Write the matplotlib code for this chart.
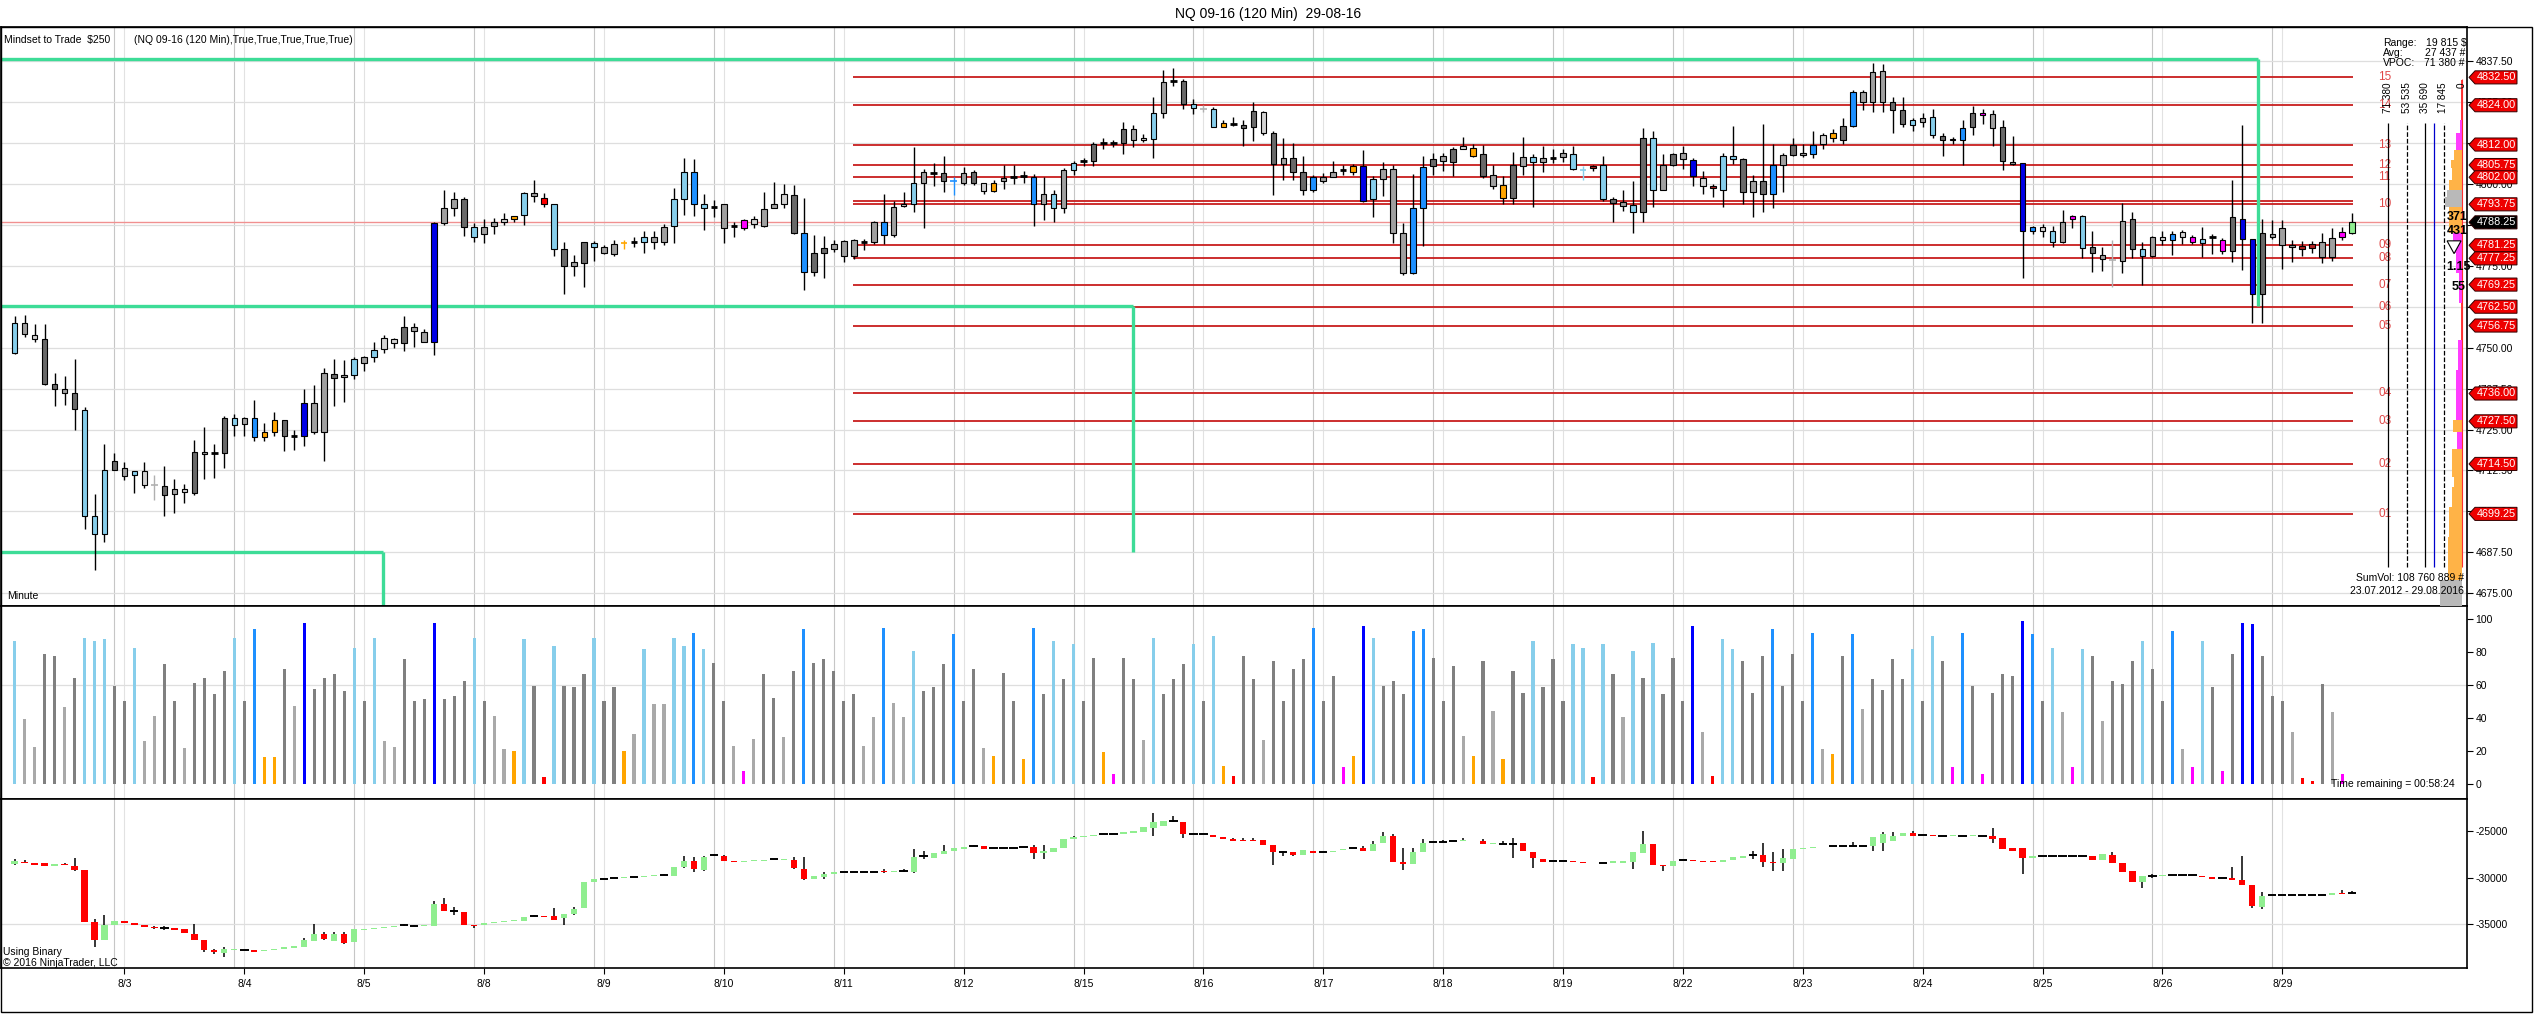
import numpy as np
import matplotlib
matplotlib.use("Agg")
import matplotlib.pyplot as plt
from matplotlib.patches import Polygon, Rectangle
from matplotlib.transforms import blended_transform_factory

plt.rcParams['font.family'] = ['Liberation Sans', 'DejaVu Sans']

# ---------------- DATA ----------------
dates = ['8/3', '8/4', '8/5', '8/8', '8/9', '8/10', '8/11', '8/12', '8/15', '8/16',
         '8/17', '8/18', '8/19', '8/22', '8/23', '8/24', '8/25', '8/26', '8/29']

opens = [4748.5,4757.5,4754.0,4752.5,4739.0,4737.25,4736.25,4731.0,4698.5,4693.25,
4712.75,4713.25,4711.0,4712.25,4708.0,4707.75,4705.25,4706.0,4705.75,4718.25,
4717.75,4717.75,4728.5,4726.75,4728.5,4722.75,4724.25,4728.0,4723.0,4723.0,
4733.25,4724.25,4742.0,4741.0,4741.75,4745.25,4747.0,4749.5,4752.5,4751.5,
4756.25,4754.75,4751.75,4788.0,4792.75,4795.5,4786.75,4784.75,4787.0,4788.25,
4789.25,4790.5,4797.25,4795.75,4794.0,4780.25,4775.0,4775.75,4782.0,4780.75,
4778.5,4782.0,4782.25,4782.25,4782.25,4782.25,4787.0,4795.25,4803.75,4794.0,
4793.0,4793.75,4787.0,4786.5,4789.25,4787.0,4792.75,4793.75,4796.5,4785.0,
4773.0,4778.75,4780.25,4782.5,4778.0,4782.25,4782.25,4788.5,4784.5,4793.25,
4793.75,4800.25,4803.25,4803.25,4800.75,4800.25,4803.5,4800.25,4797.75,4800.75,
4802.0,4802.5,4802.0,4793.75,4796.75,4792.75,4804.25,4807.0,4807.0,4812.5,
4812.5,4812.5,4816.75,4813.25,4813.75,4821.75,4831.25,4831.5,4824.25,4823.0,
4823.0,4817.5,4818.25,4818.0,4817.25,4822.0,4815.5,4806.0,4807.75,4803.75,
4798.0,4802.0,4802.0,4804.25,4803.75,4805.5,4795.25,4801.5,4804.5,4785.0,
4772.75,4792.5,4805.5,4807.0,4806.75,4810.75,4811.0,4809.0,4802.75,4799.5,
4795.75,4805.5,4808.25,4806.75,4808.0,4808.25,4809.25,4804.25,4804.75,4805.75,
4795.25,4794.5,4793.5,4791.5,4814.0,4798.25,4805.75,4809.5,4807.25,4801.75,
4799.25,4798.25,4808.5,4807.5,4797.5,4800.75,4797.0,4805.75,4808.75,4809.5,
4809.0,4812.25,4815.5,4813.5,4817.75,4828.0,4825.0,4834.5,4825.0,4822.5,
4818.0,4818.75,4820.5,4814.75,4813.25,4813.5,4817.25,4821.5,4821.25,4817.25,
4806.75,4806.25,4785.75,4786.75,4785.5,4782.25,4789.25,4790.25,4780.75,4778.25,
4776.75,4776.5,4789.25,4780.25,4778.0,4783.75,4782.75,4785.25,4783.75,4782.0,
4783.75,4783.0,4779.5,4789.25,4783.25,4766.25,4783.75,4786.5,4781.25,4781.0,
4780.5,4782.25,4777.75,4783.75,4785.0]

highs = [4759.75,4760.0,4757.25,4757.25,4742.25,4741.25,4746.5,4731.75,4705.25,4720.5,
4717.75,4715.0,4712.25,4715.0,4711.0,4713.75,4710.0,4708.5,4721.75,4725.75,
4720.5,4729.0,4729.75,4728.75,4734.0,4727.0,4730.25,4728.0,4724.75,4737.25,
4738.5,4743.75,4746.5,4746.25,4747.25,4747.5,4751.75,4753.75,4753.0,4759.75,
4757.5,4755.75,4788.25,4798.0,4797.5,4796.0,4788.0,4789.25,4789.5,4791.0,
4790.25,4797.5,4801.25,4797.25,4794.0,4782.25,4778.25,4782.25,4782.5,4781.25,
4783.0,4782.75,4783.75,4785.75,4785.75,4787.75,4798.75,4808.0,4807.5,4796.75,
4795.0,4793.75,4788.25,4789.25,4790.25,4797.5,4800.5,4800.0,4799.5,4795.75,
4784.5,4784.0,4783.0,4782.75,4783.25,4783.25,4788.75,4797.0,4794.75,4797.5,
4811.25,4804.5,4806.25,4808.5,4802.0,4805.0,4804.25,4800.25,4801.25,4805.75,
4805.75,4804.0,4803.0,4802.0,4798.0,4804.75,4807.0,4808.0,4812.75,4814.0,
4813.5,4819.0,4818.0,4815.25,4826.5,4834.75,4835.5,4832.0,4825.75,4824.0,
4823.5,4819.5,4820.5,4819.5,4825.0,4822.25,4816.25,4814.0,4812.5,4808.5,
4802.75,4803.25,4807.0,4805.75,4806.0,4810.25,4802.25,4806.75,4805.75,4788.0,
4803.0,4808.5,4809.5,4809.5,4811.25,4814.25,4812.25,4811.75,4805.75,4802.25,
4809.75,4814.25,4809.25,4811.5,4810.75,4810.75,4811.5,4805.5,4805.75,4808.5,
4796.0,4798.25,4800.75,4817.0,4816.0,4809.25,4809.5,4811.5,4807.75,4804.0,
4800.0,4809.5,4817.75,4808.0,4802.75,4818.25,4812.25,4809.5,4814.0,4812.25,
4816.0,4815.5,4816.75,4820.0,4828.75,4828.75,4837.0,4836.5,4826.5,4826.5,
4820.0,4821.5,4823.0,4815.5,4814.25,4819.5,4823.75,4823.0,4822.5,4819.5,
4814.5,4806.25,4787.25,4787.75,4787.0,4792.0,4790.5,4790.5,4785.5,4780.75,
4783.0,4794.25,4791.5,4782.25,4784.0,4785.5,4785.5,4786.0,4784.5,4786.75,
4784.75,4783.5,4801.25,4818.0,4783.25,4789.25,4789.0,4789.0,4783.0,4782.5,
4782.5,4785.0,4786.5,4786.75,4791.25]

lows = [4748.0,4753.25,4751.75,4738.5,4732.25,4732.5,4724.75,4694.5,4682.0,4690.75,
4712.5,4709.5,4705.75,4707.0,4703.5,4698.5,4699.5,4702.5,4705.0,4710.0,
4710.25,4713.25,4723.0,4723.0,4721.5,4721.5,4723.0,4718.5,4718.75,4720.0,
4723.75,4715.25,4732.25,4733.5,4740.5,4742.75,4745.5,4748.5,4750.0,4749.0,
4750.25,4751.75,4747.75,4787.5,4790.25,4784.0,4782.25,4782.0,4784.75,4787.5,
4788.25,4787.5,4794.5,4793.0,4778.0,4766.25,4771.75,4768.5,4776.5,4778.5,
4778.0,4780.25,4780.75,4778.75,4780.0,4781.25,4782.0,4790.5,4790.25,4786.0,
4790.0,4782.0,4783.75,4786.0,4786.5,4786.75,4792.5,4792.75,4784.75,4767.5,
4772.0,4771.25,4779.25,4776.0,4777.0,4779.75,4781.5,4781.75,4783.75,4793.0,
4791.5,4786.5,4799.25,4797.5,4796.5,4799.5,4799.75,4796.75,4797.5,4798.5,
4800.0,4800.25,4787.0,4789.0,4788.5,4791.25,4802.75,4805.5,4805.5,4810.75,
4811.25,4809.25,4811.25,4812.75,4808.0,4820.25,4829.75,4823.0,4821.25,4822.0,
4817.25,4817.5,4817.75,4811.5,4813.0,4815.0,4796.5,4801.25,4801.25,4796.5,
4797.5,4800.25,4802.0,4802.75,4802.75,4794.5,4789.75,4796.25,4782.0,4772.25,
4772.5,4781.0,4802.75,4804.0,4802.5,4810.5,4808.25,4801.75,4798.5,4794.0,
4793.75,4802.75,4793.0,4803.5,4806.5,4806.75,4804.25,4801.25,4804.0,4794.75,
4788.25,4791.75,4785.0,4788.25,4793.0,4798.0,4805.5,4804.5,4799.25,4797.0,
4796.0,4793.0,4806.0,4794.0,4789.75,4791.5,4792.5,4797.5,4808.5,4808.25,
4808.0,4810.75,4812.75,4812.25,4817.5,4822.5,4822.0,4822.0,4815.5,4817.5,
4816.0,4817.25,4814.0,4808.5,4812.25,4805.75,4815.0,4818.25,4811.5,4804.25,
4805.75,4771.25,4784.75,4783.75,4780.75,4782.0,4786.5,4777.25,4773.0,4773.5,
4768.5,4772.75,4777.25,4769.0,4777.75,4781.25,4778.25,4781.5,4781.5,4777.75,
4778.5,4778.5,4776.0,4773.75,4757.5,4757.5,4783.25,4774.0,4776.25,4778.0,
4779.0,4775.75,4776.5,4782.75,4784.75]

closes = [4757.5,4754.25,4752.75,4739.0,4737.5,4736.25,4731.25,4698.5,4693.25,4712.75,
4715.25,4710.75,4712.25,4708.0,4708.0,4705.0,4706.75,4706.75,4718.25,4717.5,
4717.75,4728.5,4726.5,4728.5,4722.75,4724.25,4728.0,4723.0,4723.0,4733.25,
4724.25,4742.25,4740.75,4741.75,4746.5,4747.0,4749.25,4753.0,4751.5,4756.25,
4755.0,4751.75,4788.0,4792.75,4795.25,4786.75,4783.75,4786.75,4788.25,4789.25,
4790.25,4797.25,4796.25,4794.0,4780.25,4775.0,4776.0,4782.25,4780.75,4778.75,
4781.75,4782.0,4782.25,4783.75,4783.75,4786.75,4795.25,4803.75,4793.75,4792.75,
4793.0,4786.5,4787.0,4789.0,4787.75,4792.25,4794.0,4796.75,4785.0,4773.0,
4779.0,4780.5,4781.75,4778.0,4782.75,4782.25,4788.5,4784.5,4793.0,4794.0,
4800.25,4803.5,4803.25,4800.75,4800.75,4803.25,4800.25,4797.75,4800.25,4801.75,
4802.0,4802.5,4793.75,4796.75,4792.75,4804.25,4806.25,4807.0,4812.25,4812.5,
4812.5,4816.75,4813.5,4814.0,4821.75,4831.0,4831.25,4824.5,4823.25,4823.0,
4817.5,4818.5,4818.25,4817.0,4822.25,4815.5,4806.0,4808.0,4803.75,4798.0,
4802.0,4801.0,4803.75,4804.25,4805.5,4794.75,4801.5,4804.5,4785.0,4772.75,
4792.75,4805.25,4807.5,4808.5,4810.75,4811.5,4808.5,4802.25,4799.25,4795.75,
4805.75,4808.25,4806.75,4808.0,4808.0,4809.5,4804.5,4804.25,4805.5,4795.25,
4794.25,4793.25,4791.5,4814.0,4798.25,4805.75,4809.0,4807.5,4802.5,4799.25,
4798.75,4808.5,4807.5,4797.5,4800.75,4797.0,4805.75,4808.75,4812.0,4808.75,
4811.75,4815.0,4814.0,4817.75,4828.0,4825.0,4834.25,4825.0,4822.5,4818.25,
4819.5,4820.25,4815.0,4813.25,4813.75,4817.0,4821.75,4821.0,4817.0,4807.0,
4806.0,4785.5,4786.75,4785.75,4782.25,4788.5,4790.25,4780.5,4778.75,4777.0,
4776.75,4788.75,4780.25,4778.0,4783.75,4783.0,4784.75,4783.75,4782.25,4783.25,
4783.75,4779.5,4789.75,4783.25,4766.25,4785.0,4784.75,4781.25,4780.75,4780.25,
4781.5,4777.75,4783.5,4785.25,4788.25]

candle_colors = [
'lb','g','lg','dg','dg','g','dg','lb','lb','lb',
'dg','g','lb','lg','lg','dg','g','lg','dg','g',
'k','dg','lb','g','db','o','o','dg','k','b',
'g','g','dg','g','lb','g','lb','lg','lg','dg',
'g','g','b','g','g','dg','lb','g','g','lg',
'o','lb','g','r','lb','dg','g','dg','lb','g',
'g','o','k','lb','g','g','lb','lb','db','lb',
'k','g','k','m','lg','g','g','lg','dg','db',
'dg','dg','g','g','g','k','g','db','g','lg',
'lb','g','k','dg','db','g','dg','lg','o','g',
'k','k','db','g','lb','g','lb','k','dg','k',
'k','dg','g','lg','lb','g','k','dg','lb','lg',
'lb','o','k','dg','dg','lg','dg','g','dg','dg',
'db','g','g','k','o','b','lb','g','g','g',
'db','db','dg','g','dg','lg','o','dg','g','o',
'dg','g','lb','g','k','g','lb','lb','dr','lb',
'dg','g','lb','dg','lb','g','dg','g','b','lg',
'dr','lb','lb','dg','g','dg','db','g','dg','g',
'db','lg','o','dg','db','g','g','g','dg','dg',
'lb','g','lb','dg','m','db','dg','m','g','dg',
'g','b','db','lg','lb','g','m','lb','dg','g',
'lg','g','dg','lb','g','lg','db','lg','m','lb',
'k','m','dg','b','b','dg','g','g','g','dr',
'dr','g','g','m','gr']

hist_values = [86.7,39.3,22.6,78.6,77.6,46.8,64.1,88.3,86.7,87.9,
59.5,50.4,82.3,26.2,41.3,72.6,50.4,21.6,61.3,64.1,
54.6,68.5,88.3,50.4,93.8,16.5,16.5,69.6,47.4,97.4,
57.7,64.3,66.7,56.5,82.5,50.4,88.3,26.2,22.6,75.6,
50.4,51.4,97.4,51.4,53.4,62.5,88.3,50.4,41.3,21.2,
20.2,87.7,59.5,4.4,83.5,59.5,58.5,66.5,88.3,50.4,
58.5,20.2,30.6,81.7,48.4,48.4,88.3,83.7,91.5,81.7,
73.4,50.4,23.2,7.7,27.4,66.7,52.2,28.6,68.5,93.8,
73.4,75.8,68.5,50.4,54.4,23.2,40.7,94.6,49.0,40.9,
80.4,56.5,58.5,72.6,90.9,50.4,70.0,21.6,17.1,67.3,
50.4,15.1,94.6,54.6,86.7,63.9,84.7,50.4,76.4,19.6,
6.3,76.4,63.9,26.4,88.3,54.6,63.9,72.8,84.7,50.4,
89.7,11.1,5.0,77.6,63.9,26.4,74.6,50.4,70.0,76.0,
94.6,50.4,65.5,10.5,17.1,95.8,88.5,59.5,62.5,54.6,
92.7,93.8,76.4,50.4,71.6,29.2,17.1,74.6,44.4,15.3,
68.5,55.0,86.7,58.5,75.8,50.4,84.7,82.5,4.4,84.7,
66.7,40.7,80.6,64.3,85.5,54.6,76.4,50.4,95.8,31.7,
5.0,87.9,81.9,74.6,55.2,77.6,94.0,59.5,78.8,50.4,
91.5,21.4,18.3,77.6,90.9,45.6,63.7,57.1,76.0,63.7,
81.9,50.4,89.7,74.6,10.5,91.5,59.5,6.3,55.2,66.7,
65.5,98.8,90.9,50.4,82.5,43.8,10.5,81.9,77.6,38.3,
62.5,60.7,74.6,86.7,70.0,50.4,92.7,21.4,10.5,86.7,
58.5,8.1,78.8,97.6,97.0,77.6,53.4,50.4,31.7,3.4,
2.0,60.5,43.8,6.0,0.0]

hist_colors = [
'lb','lg','lg','g','g','lg','g','lb','lb','lb',
'g','g','lb','lg','lg','g','g','lg','g','g',
'g','g','lb','g','db','o','o','g','lg','b',
'g','g','g','g','lb','g','lb','lg','lg','g',
'g','g','b','g','g','g','lb','g','lg','lg',
'o','lb','g','r','lb','g','g','g','lb','g',
'g','o','lg','lb','lg','lg','lb','lb','db','lb',
'g','g','lg','m','lg','g','g','lg','g','db',
'g','g','g','g','g','lg','lg','db','lg','lg',
'lb','g','g','g','db','g','g','lg','o','g',
'g','o','db','g','lb','g','lb','g','g','o',
'm','g','g','lg','lb','g','g','g','lb','g',
'lb','o','r','g','g','lg','g','g','g','g',
'db','g','g','m','o','b','lb','g','g','g',
'db','db','g','g','g','lg','o','g','lg','o',
'g','g','lb','g','g','g','lb','lb','r','lb',
'g','lg','lb','g','lb','g','g','g','b','lg',
'r','lb','lb','g','g','g','db','g','g','g',
'db','lg','o','g','db','lg','g','g','g','g',
'lb','g','lb','g','m','db','g','m','g','g',
'g','b','db','g','lb','lg','m','lb','g','lg',
'g','g','g','lb','g','g','db','lg','m','lb',
'g','m','g','b','b','g','g','g','lg','r',
'r','g','lg','m','g']

d_open = [-28550,-28300,-28480,-28480,-28720,-28580,-28720,-29150,-34750,-36630,
-35040,-34680,-34890,-35040,-35280,-35390,-35390,-35530,-35990,-36700,
-37770,-38050,-37770,-37700,-37700,-37870,-37700,-37590,-37480,-37410,
-36770,-35990,-36770,-35990,-36880,-35570,-35460,-35390,-35280,-35110,
-35180,-35210,-35210,-32800,-33580,-33690,-35040,-35040,-34860,-34750,
-34680,-34650,-34150,-34150,-34150,-34330,-33870,-33260,-30430,-30140,
-30070,-30070,-29960,-29960,-29860,-29720,-29790,-28900,-28190,-29150,
-27590,-27730,-28230,-28300,-28230,-28190,-28010,-28120,-28090,-29080,
-30210,-29960,-29650,-29430,-29430,-29430,-29360,-29290,-29430,-29290,
-29360,-27730,-27910,-27480,-27130,-26950,-26670,-26670,-26810,-26810,
-26810,-26770,-26770,-27410,-27310,-26880,-25890,-25710,-25600,-25390,
-25360,-25360,-25250,-25110,-24750,-24540,-23940,-24040,-25360,-25360,
-25460,-25710,-25890,-25990,-25960,-25990,-26490,-27310,-27310,-27590,
-27130,-27310,-27230,-27060,-26840,-26840,-27130,-26350,-25530,-28370,
-28550,-27310,-26170,-26170,-26140,-26100,-26060,-26140,-26450,-26380,
-26420,-26350,-27230,-28010,-28190,-28190,-28190,-28300,-28400,-28400,
-28440,-28440,-28370,-27380,-26420,-28650,-28790,-28120,-28090,-28190,
-28260,-28300,-28120,-27940,-27590,-27590,-28300,-28440,-28010,-26950,
-26840,-26770,-26670,-26630,-26600,-26600,-26670,-26310,-26060,-25530,
-25280,-25460,-25460,-25530,-25600,-25530,-25600,-25530,-25530,-25820,
-26880,-26880,-27940,-27730,-27730,-27730,-27730,-27730,-27730,-28120,
-27590,-28480,-29330,-30500,-29860,-29860,-29750,-29750,-29750,-29790,
-29960,-30070,-30070,-30320,-30850,-33160,-31920,-31920,-31920,-31920,
-31920,-31920,-31920,-31670,-31670]

d_close = [-28190,-28400,-28650,-28720,-28550,-28690,-29150,-34750,-36630,-35110,
-34680,-34860,-35110,-35280,-35390,-35390,-35570,-35890,-36630,-37770,
-38010,-37590,-37590,-37700,-37940,-37770,-37590,-37450,-37310,-36700,
-36060,-36600,-36060,-36950,-35530,-35460,-35390,-35280,-35180,-35110,
-35180,-35110,-32800,-33580,-33580,-35040,-35180,-34860,-34750,-34680,
-34570,-34220,-34150,-34260,-34500,-33870,-33330,-30430,-30210,-30140,
-30070,-29960,-29960,-29790,-29720,-29720,-28900,-28190,-29080,-27840,
-27590,-28230,-28370,-28190,-28120,-28090,-28010,-28010,-29010,-30210,
-29860,-29650,-29430,-29430,-29430,-29430,-29360,-29430,-29260,-29290,
-27840,-27730,-27410,-27130,-26880,-26770,-26670,-26950,-26810,-26810,
-26810,-26770,-27410,-27130,-26880,-25890,-25710,-25600,-25460,-25390,
-25360,-25180,-25070,-24650,-24040,-23970,-23940,-25360,-25360,-25360,
-25640,-25890,-26060,-26140,-26100,-26490,-27230,-27310,-27590,-27060,
-27380,-27310,-27130,-26950,-26840,-27130,-26420,-25530,-28370,-28550,
-27310,-26350,-26170,-26170,-26140,-25990,-26140,-26420,-26310,-26380,
-26420,-27200,-27940,-28300,-28190,-28190,-28300,-28440,-28480,-28400,
-28190,-28190,-27310,-26420,-28650,-28790,-28190,-28120,-28190,-28300,
-28370,-28090,-27840,-27660,-27590,-28300,-28440,-27940,-26950,-26840,
-26770,-26700,-26670,-26630,-26600,-26600,-25640,-25360,-25530,-25280,
-25530,-25460,-25600,-25530,-25460,-25530,-25460,-25530,-25890,-26950,
-27130,-27940,-27730,-27730,-27730,-27730,-27730,-27730,-28120,-27480,
-28440,-29360,-30500,-29860,-29860,-29720,-29750,-29750,-29750,-29960,
-30140,-30070,-30320,-30850,-33090,-32020,-31920,-31920,-31920,-31920,
-31920,-31920,-31630,-31770,-31670]

d_high = [-28010,-28120,-28480,-28480,-28550,-28440,-27940,-29150,-34400,-33970,
-34680,-34680,-34890,-35040,-35180,-35180,-35390,-35530,-34930,-36700,
-37590,-37410,-37590,-37700,-37700,-37770,-37590,-37450,-37310,-36450,
-34930,-35820,-35820,-35820,-35530,-35460,-35390,-35280,-35180,-35000,
-35040,-35110,-32550,-32160,-33160,-33690,-35040,-34860,-34750,-34680,
-34570,-34220,-34040,-34150,-33260,-33870,-33160,-30430,-30210,-30140,
-30070,-29960,-29960,-29790,-29720,-29610,-28900,-27660,-27840,-27730,
-27480,-27590,-28230,-28190,-28120,-28090,-28010,-28010,-27840,-27840,
-29860,-29360,-29430,-29430,-29430,-29430,-29360,-29080,-29260,-29080,
-26950,-27130,-27410,-26530,-26880,-26770,-26530,-26670,-26810,-26810,
-26810,-26770,-26530,-26530,-26880,-25890,-25530,-25600,-25460,-25390,
-25360,-25180,-25070,-24650,-23120,-23970,-23480,-24040,-25360,-25360,
-25460,-25710,-25780,-25820,-25820,-25990,-26490,-27130,-27310,-27060,
-27130,-27310,-27130,-26950,-26840,-26600,-26060,-25180,-25360,-26880,
-26880,-25890,-26170,-25990,-26140,-25820,-26060,-25890,-26310,-26060,
-25820,-26350,-27230,-28010,-28190,-28190,-28190,-28300,-28400,-28400,
-28190,-28190,-27310,-25000,-26420,-28650,-28190,-28120,-28090,-28190,
-28260,-28090,-27840,-27660,-27130,-26350,-27230,-26950,-26950,-26840,
-26770,-26700,-26670,-26630,-26170,-26600,-25640,-25180,-25180,-25280,
-25000,-25460,-25460,-25530,-25460,-25530,-25460,-25530,-24750,-25820,
-26880,-26880,-27730,-27730,-27730,-27730,-27730,-27730,-27730,-27480,
-27310,-28480,-29330,-29860,-29610,-29720,-29750,-29750,-29750,-29790,
-29960,-30070,-28830,-27730,-30850,-31560,-31920,-31920,-31920,-31920,
-31920,-31920,-31630,-31380,-31450]

d_low = [-28620,-28400,-28650,-28720,-28720,-28690,-29260,-34750,-37410,-36700,
-35040,-34860,-35110,-35280,-35460,-35640,-35570,-35890,-36700,-37940,
-38120,-38480,-37770,-37700,-37940,-37870,-37700,-37590,-37480,-37410,
-36810,-36700,-36770,-37060,-36880,-35570,-35460,-35390,-35280,-35210,
-35180,-35210,-35210,-33580,-34040,-35040,-35390,-35040,-34860,-34750,
-34680,-34650,-34150,-34260,-34570,-35110,-34040,-33260,-30430,-30140,
-30070,-30070,-29960,-29960,-29860,-29720,-29860,-29010,-29430,-29260,
-27730,-28230,-28370,-28300,-28230,-28190,-28010,-28120,-29080,-30320,
-30210,-30210,-29650,-29430,-29430,-29430,-29360,-29500,-29430,-29430,
-29540,-28010,-27910,-27480,-27130,-26950,-26670,-26950,-26810,-26810,
-26810,-26770,-28010,-28010,-27310,-26880,-25890,-25710,-25600,-25390,
-25360,-25360,-25250,-25110,-25530,-24540,-24110,-25820,-25360,-25360,
-25640,-25890,-26060,-26140,-26100,-26490,-28650,-27660,-27660,-27590,
-27380,-27310,-27230,-27060,-26840,-27130,-27130,-26350,-28370,-29150,
-28550,-27310,-26170,-26170,-26140,-26100,-26140,-26420,-26450,-26380,
-27910,-27200,-28970,-28300,-28190,-28190,-28300,-28440,-28480,-28400,
-28440,-28440,-29080,-27380,-28650,-29330,-28790,-28120,-28190,-28300,
-28370,-28300,-28120,-27940,-28010,-28900,-29330,-29260,-28010,-26950,
-26840,-26770,-26670,-26630,-26600,-26600,-27130,-27130,-26060,-25530,
-25530,-25460,-25600,-25530,-25600,-25530,-25600,-25530,-26310,-26950,
-27130,-29610,-27940,-27730,-27730,-27730,-27730,-27730,-28120,-28120,
-28440,-29360,-30500,-31100,-30070,-29860,-29750,-29750,-29750,-29960,
-30140,-30070,-30320,-30850,-33260,-33330,-31920,-31920,-31920,-31920,
-31920,-31920,-31920,-31770,-31670]

level_labels = ['15', '14', '13', '12', '11', '10', '09', '08', '07', '06', '05', '04', '03', '02', '01']
level_prices = [4832.50, 4824.00, 4812.00, 4805.75, 4802.00, 4793.75, 4781.25, 4777.25,
                4769.25, 4762.50, 4756.75, 4736.00, 4727.50, 4714.50, 4699.25]
last_price = 4788.25

green_levels = [4838.25, 4762.75, 4687.5]
green_end_bar = [224.6, 112.0, 36.9]

vp_lo = [4819.5, 4815.4, 4810.3, 4807.3, 4804.7, 4801.2, 4798.1, 4796.1, 4793.0, 4790.0,
         4784.9, 4778.8, 4772.7, 4763.5, 4752.3, 4743.1, 4727.9, 4724.3, 4719.2, 4710.6,
         4707.5, 4701.4, 4692.3, 4679.0, 4671.2]
vp_hi = [4831.7, 4819.5, 4815.4, 4810.3, 4807.3, 4804.7, 4801.2, 4798.1, 4796.1, 4793.0,
         4790.0, 4784.9, 4778.8, 4772.7, 4763.5, 4752.3, 4743.1, 4727.9, 4724.3, 4719.2,
         4710.6, 4707.5, 4701.4, 4692.3, 4679.0]
vp_vol = [1000, 2000, 5500, 8000, 11000, 10000, 13000, 14500, 16000, 13000,
          13000, 8700, 5500, 2500, 1300, 3500, 5500, 8700, 4800, 10000,
          8000, 9600, 12500, 13500, 21000]
vp_col = ['r', 'm', 'm', 'o', 'o', 'o', 'o', 'gy', 'gy', 'o',
          'o', 'm', 'm', 'm', 'r', 'm', 'm', 'o', 'm', 'o',
          'o', 'o', 'o', 'o', 'gy']
vp_scale = [71380, 53535, 35690, 17845, 0]
vp_scale_labels = ['71 380', '53 535', '35 690', '17 845', '0']
vp_avg = 27437

n = len(opens)
for arr in (highs, lows, closes, candle_colors, hist_values, hist_colors, d_open, d_close, d_high, d_low):
    assert len(arr) == n, (len(arr), n)

# ---------------- STYLE ----------------
CC = {'lb': '#87CEEB', 'dg': '#696969', 'g': '#A0A0A0', 'lg': '#D3D3D3', 'db': '#1E90FF',
      'b': '#0000E6', 'o': '#FFA500', 'm': '#FF00FF', 'r': '#FF0000', 'dr': '#B22222',
      'k': '#000000', 'gr': '#90EE90'}
HC = {'lb': '#87CEEB', 'g': '#808080', 'lg': '#A9A9A9', 'db': '#1E90FF', 'b': '#0000FF',
      'o': '#FFA500', 'm': '#FF00FF', 'r': '#FF0000'}
VC = {'r': '#FF3C3C', 'm': '#FF3CFF', 'o': '#FFB347', 'gy': '#B9B9B9'}
GREEN = '#3DDC97'
LEVEL_RED = '#C81E1E'

W, H = 2536, 1014
fig = plt.figure(figsize=(W / 100, H / 100), dpi=100)
fig.patch.set_facecolor('white')


def fx(p):
    return p / W


def fy(p):
    return 1 - p / H


L, R = 1, 2467


def panel(top, bottom):
    return fig.add_axes([fx(L), fy(bottom), fx(R) - fx(L), fy(top) - fy(bottom)])


ax1 = panel(27, 606)
ax2 = panel(606, 799)
ax3 = panel(799, 968)

XMIN, XMAX = -1.36, 245.49
date_pos = [11 + 12 * k for k in range(len(dates))]
for ax in (ax1, ax2, ax3):
    ax.set_xlim(XMIN, XMAX)
    ax.set_facecolor('white')
    ax.yaxis.tick_right()
    ax.tick_params(axis='y', direction='out', length=4, width=0.8, labelsize=7.5, pad=2)
    for s in ax.spines.values():
        s.set_linewidth(1.2)
        s.set_color('black')
    for p in date_pos:
        ax.axvline(p - 1, color='#C6C6C6', lw=0.8, zorder=0)
        ax.axvline(p, color='#E2E2E2', lw=0.8, zorder=0)

ax1.set_xticks([])
ax2.set_xticks([])
ax3.set_xticks(date_pos)
ax3.set_xticklabels(dates, fontsize=7.5)
ax3.tick_params(axis='x', direction='out', length=4, width=0.8, pad=4)

# ---- price panel ----
ax1.set_ylim(4671.13, 4847.88)
pt = np.arange(4675, 4838, 12.5)
ax1.set_yticks(pt)
ax1.set_yticklabels(['%.2f' % v for v in pt])
for v in pt:
    ax1.axhline(v, color='#DEDEDE', lw=0.9, zorder=0)

ax1.axhline(last_price, color='#F09090', lw=1.0, zorder=1)

# red levels
for lab, p in zip(level_labels, level_prices):
    ax1.hlines(p, 83.9, 234.1, color=LEVEL_RED, lw=1.3, zorder=1)
    ax1.text(236.6, p, lab, color='#E04848', fontsize=8.5, va='center', ha='left', zorder=5)
ax1.hlines(level_prices[5] + 1.0, 83.9, 234.1, color=LEVEL_RED, lw=1.3, zorder=1)

# green mindset lines
for lv, eb in zip(green_levels, green_end_bar):
    ax1.hlines(lv, XMIN, eb, color=GREEN, lw=2.4, zorder=2)
gl = green_levels
ax1.vlines(green_end_bar[0], gl[1], gl[0], color=GREEN, lw=2.4, zorder=2)
ax1.vlines(green_end_bar[1], gl[2], gl[1], color=GREEN, lw=2.4, zorder=2)
ax1.vlines(green_end_bar[2], 4671.13, gl[2], color=GREEN, lw=2.4, zorder=2)

# candles
bw = 0.56
for i in range(n):
    o, h, l, c = opens[i], highs[i], lows[i], closes[i]
    code = candle_colors[i]
    col = CC[code]
    if o == c:
        lc = 'black' if code == 'k' else ('#B0B0B0' if code == 'lg' else col)
        ax1.vlines(i, l, h, color=lc, lw=1.0, zorder=3)
        ax1.hlines(o, i - 0.32, i + 0.32, color=lc, lw=2.0 if code == 'k' else 1.2, zorder=4)
    else:
        ax1.vlines(i, l, h, color='black', lw=1.0, zorder=3)
        ax1.add_patch(Rectangle((i - bw / 2, min(o, c)), bw, abs(c - o), facecolor=col,
                                edgecolor='black', lw=0.8, zorder=4))

# price tags
trans = blended_transform_factory(fig.transFigure, ax1.transData)
hh = 2.0
for p in level_prices + [last_price]:
    fc = 'black' if p == last_price else '#EE0000'
    poly = Polygon([(fx(2469), p), (fx(2475), p + hh), (fx(2517), p + hh),
                    (fx(2517), p - hh), (fx(2475), p - hh)], closed=True,
                   transform=trans, facecolor=fc, edgecolor='#300000', lw=0.7,
                   clip_on=False, zorder=20)
    ax1.add_patch(poly)
    ax1.text(fx(2496), p, '%.2f' % p, transform=trans, color='white', fontsize=7.8,
             ha='center', va='center', clip_on=False, zorder=21)

# ---- volume profile ----
axv = fig.add_axes([fx(2388), fy(606), fx(2462) - fx(2388), fy(27) - fy(606)])
axv.set_xlim(vp_scale[0], 0)
axv.set_ylim(4671.13, 4847.88)
axv.axis('off')
axv.patch.set_alpha(0)
for lo, hi, vol, c in zip(vp_lo, vp_hi, vp_vol, vp_col):
    axv.barh((lo + hi) / 2, vol, height=hi - lo, left=0, color=VC[c], linewidth=0, zorder=2)
axv.vlines(0, 4683.0, 4832.0, color='#FF3030', lw=0.8, clip_on=False, zorder=3)
styles = ['-', '--', '-', '--']
for v, ls in zip(vp_scale[:4], styles):
    axv.vlines(v, 4683.0, 4818.6, color='black', lw=0.9, linestyles=ls, clip_on=False, zorder=1)
axv.vlines(vp_avg, 4683.0, 4818.6, color='#0000CC', lw=0.9, zorder=1)
for v, s in zip(vp_scale, vp_scale_labels):
    axv.text(v, 4831.1, s, rotation=90, ha='center', va='top', fontsize=7.2, clip_on=False)
axv.text(14500, 4790.0, '371', fontsize=9, fontweight='bold', ha='left', va='center', zorder=5)
axv.text(14500, 4785.6, '431', fontsize=9, fontweight='bold', ha='left', va='center', zorder=5)
axv.text(15500, 4774.6, '1.15', fontsize=9, fontweight='bold', ha='left', va='center', zorder=5)
axv.text(10000, 4768.5, '55', fontsize=9, fontweight='bold', ha='left', va='center', zorder=5)
axv.add_patch(Polygon([(14400, 4782.6), (900, 4782.6), (7650, 4778.7)], closed=True,
                      facecolor='white', edgecolor='black', lw=0.8, zorder=5))

# ---- middle panel ----
ax2.set_ylim(-9.1, 107.9)
ax2.set_yticks([0, 20, 40, 60, 80, 100])
ax2.set_yticklabels(['0', '20', '40', '60', '80', '100'])
ax2.axhline(60, color='#DEDEDE', lw=0.9, zorder=0)
ax2.bar(np.arange(n), hist_values, width=0.32, color=[HC[c] for c in hist_colors], zorder=3)
ax2.text(231.9, 0, 'Time remaining = 00:58:24', fontsize=7.5, ha='left', va='center', zorder=5)

# ---- bottom panel ----
ax3.set_ylim(-39669, -21613)
ax3.set_yticks([-25000, -30000, -35000])
ax3.set_yticklabels(['-25000', '-30000', '-35000'])
ax3.axhline(-35000, color='#DEDEDE', lw=0.9, zorder=0)
for i in range(n):
    o, h, l, c = d_open[i], d_high[i], d_low[i], d_close[i]
    ax3.vlines(i, l, h, color='black', lw=1.1, zorder=3)
    if o == c:
        ax3.hlines(o, i - 0.42, i + 0.42, color='black', lw=1.4, zorder=4)
    else:
        col = '#90EE90' if c > o else '#FF0000'
        ax3.add_patch(Rectangle((i - 0.31, min(o, c)), 0.62, abs(c - o), facecolor=col,
                                edgecolor='none', zorder=4))

# ---- texts ----
fig.text(fx(1268), fy(14), 'NQ 09-16 (120 Min)  29-08-16', ha='center', va='center', fontsize=10)
fig.text(fx(4), fy(40), 'Mindset to Trade  $250', ha='left', va='center', fontsize=7.5)
fig.text(fx(134), fy(40), '(NQ 09-16 (120 Min),True,True,True,True,True)', ha='left', va='center', fontsize=7.5)
fig.text(fx(7), fy(596), 'Minute', ha='left', va='center', fontsize=7.5)
fig.text(fx(3), fy(952), 'Using Binary', ha='left', va='center', fontsize=7.5)
fig.text(fx(3), fy(963), '\u00a9 2016 NinjaTrader, LLC', ha='left', va='center', fontsize=7.5)
fig.text(fx(2383), fy(43), 'Range:', ha='left', va='center', fontsize=7.5)
fig.text(fx(2467), fy(43), '19 815 $', ha='right', va='center', fontsize=7.5)
fig.text(fx(2383), fy(53), 'Avg:', ha='left', va='center', fontsize=7.5)
fig.text(fx(2465), fy(53), '27 437 #', ha='right', va='center', fontsize=7.5)
fig.text(fx(2383), fy(63), 'VPOC:', ha='left', va='center', fontsize=7.5)
fig.text(fx(2465), fy(63), '71 380 #', ha='right', va='center', fontsize=7.5)
fig.text(fx(2464), fy(578), 'SumVol: 108 760 889 #', ha='right', va='center', fontsize=7.5)
fig.text(fx(2464), fy(591), '23.07.2012 - 29.08.2016', ha='right', va='center', fontsize=7.5)

fig.add_artist(Rectangle((fx(0.5), fy(1012)), fx(2532) - fx(0.5), fy(27) - fy(1012),
                         transform=fig.transFigure, fill=False, lw=1.0, ec='black'))

fig.savefig('out.png', dpi=100, facecolor='white')
